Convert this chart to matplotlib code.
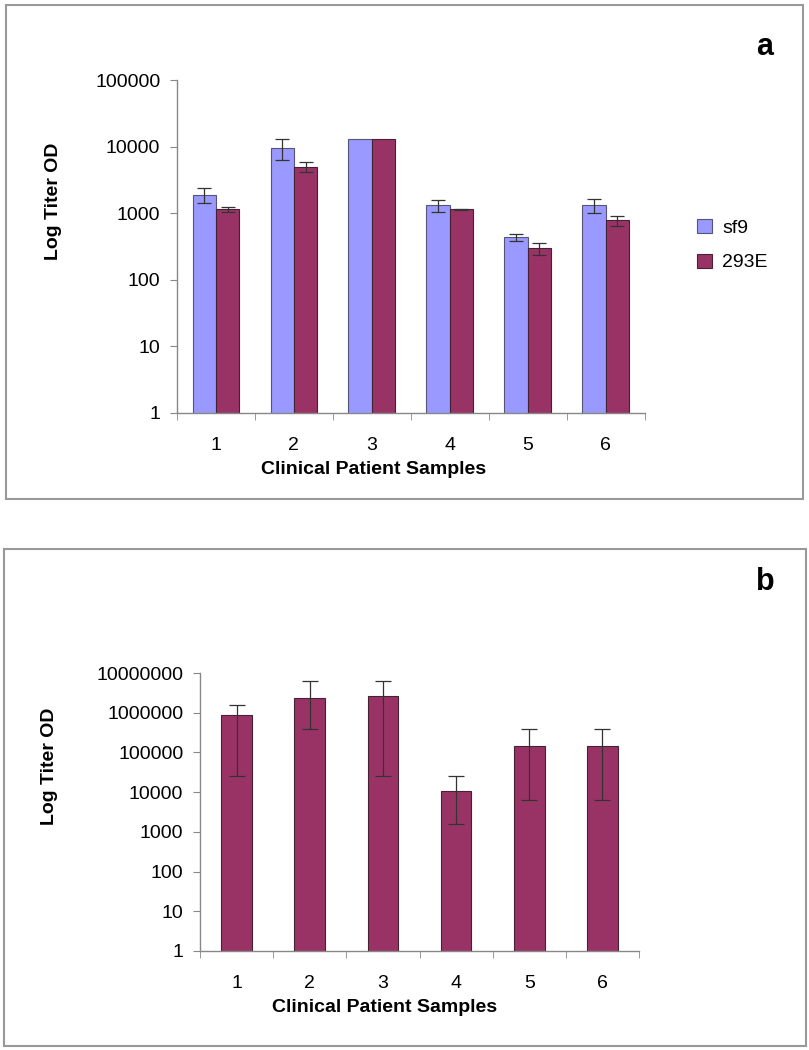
import matplotlib
matplotlib.use("Agg")
import matplotlib.pyplot as plt
import numpy as np
from matplotlib.patches import Rectangle

plt.rcParams['font.family'] = ['Liberation Sans', 'DejaVu Sans']

# ---- data ----
samples = ["1", "2", "3", "4", "5", "6"]
series_names = ["sf9", "293E"]

sf9_vals = [1900, 9500, 13000, 1310, 435, 1310]
sf9_err = [480, 3300, 0, 250, 55, 300]
e293_vals = [1140, 5000, 13000, 1140, 297, 780]
e293_err = [90, 900, 0, 30, 58, 140]

b_vals = [890000, 2400000, 2650000, 11000, 146000, 146000]
b_err_low = [864000, 2015000, 2624000, 9440, 139700, 139700]
b_err_high = [660000, 4000000, 3750000, 15000, 239000, 239000]

a_yticks = [1, 10, 100, 1000, 10000, 100000]
b_yticks = [1, 10, 100, 1000, 10000, 100000, 1000000, 10000000]

c_sf9 = "#9999FF"
c_293 = "#993366"
gray = "#888888"
FS = 14

fig = plt.figure(figsize=(8.09, 10.5), dpi=100)

def style_axes(ax, yticks, n):
    ax.set_yscale('log')
    ax.set_ylim(yticks[0], yticks[-1])
    ax.set_xlim(0.5, n + 0.5)
    for s in ['top', 'right']:
        ax.spines[s].set_visible(False)
    for s in ['left', 'bottom']:
        ax.spines[s].set_color(gray)
        ax.spines[s].set_linewidth(1.0)
    ax.set_yticks(yticks)
    ax.set_yticklabels([str(t) for t in yticks])
    ax.yaxis.set_minor_locator(matplotlib.ticker.NullLocator())
    x = np.arange(1, n + 1)
    ax.set_xticks(x)
    ax.set_xticklabels(samples)
    ax.set_xticks(np.arange(0.5, n + 1.0, 1.0), minor=True)
    ax.tick_params(axis='x', which='major', length=0, pad=17, labelsize=FS)
    ax.tick_params(axis='x', which='minor', length=5, color=gray, direction='out')
    ax.tick_params(axis='y', which='major', length=5, color=gray, direction='out', labelsize=FS, pad=7)
    ax.set_xlabel("Clinical Patient Samples", fontsize=FS, fontweight='bold')
    ax.set_ylabel("Log Titer OD", fontsize=FS, fontweight='bold')
    ax.xaxis.label.set_va('center')
    ax.yaxis.label.set_va('center')

# ---- panel a ----
axa = fig.add_axes([0.2188, 0.6067, 0.578, 0.3171])
n = len(samples)
x = np.arange(1, n + 1)
w = 0.3
axa.bar(x - w / 2, sf9_vals, width=w, color=c_sf9, edgecolor='#555577', linewidth=0.8, label=series_names[0], zorder=2)
axa.bar(x + w / 2, e293_vals, width=w, color=c_293, edgecolor='#442233', linewidth=0.8, label=series_names[1], zorder=2)
for xs, v, e in [(x - w / 2, sf9_vals, sf9_err), (x + w / 2, e293_vals, e293_err)]:
    mask = np.array(e) > 0
    axa.errorbar(np.array(xs)[mask], np.array(v)[mask], yerr=np.array(e)[mask], fmt='none',
                 ecolor='#333333', elinewidth=0.9, capsize=5, capthick=0.9, zorder=3)
style_axes(axa, a_yticks, n)
axa.yaxis.set_label_coords(-0.265, 0.637)
axa.xaxis.set_label_coords(0.421, -0.171)
axa.legend(loc='upper left', bbox_to_anchor=(0.840, 0.808), bbox_transform=fig.transFigure,
           frameon=False, fontsize=FS, handlelength=0.75, handleheight=0.75,
           labelspacing=0.85, handletextpad=0.55)

# ---- panel b ----
axb = fig.add_axes([0.2472, 0.0943, 0.5427, 0.2647])
axb.bar(x, b_vals, width=0.42, color=c_293, edgecolor='#442233', linewidth=0.8, zorder=2)
axb.errorbar(x, b_vals, yerr=[b_err_low, b_err_high], fmt='none', ecolor='#333333',
             elinewidth=0.9, capsize=5.5, capthick=0.9, zorder=3)
style_axes(axb, b_yticks, n)
axb.yaxis.set_label_coords(-0.342, 0.665)
axb.xaxis.set_label_coords(0.421, -0.205)

# ---- frames and panel letters ----
fig.add_artist(Rectangle((0.0074, 0.5248), 0.985, 0.4705, transform=fig.transFigure,
                         fill=False, edgecolor='#999999', linewidth=1.5))
fig.add_artist(Rectangle((0.0049, 0.0038), 0.9913, 0.4733, transform=fig.transFigure,
                         fill=False, edgecolor='#999999', linewidth=1.5))
fig.text(765 / 809, 1 - 47 / 1050, "a", fontsize=22, fontweight='bold', ha='center', va='center')
fig.text(765 / 809, 1 - 582 / 1050, "b", fontsize=22, fontweight='bold', ha='center', va='center')

fig.savefig("out.png", dpi=100)
